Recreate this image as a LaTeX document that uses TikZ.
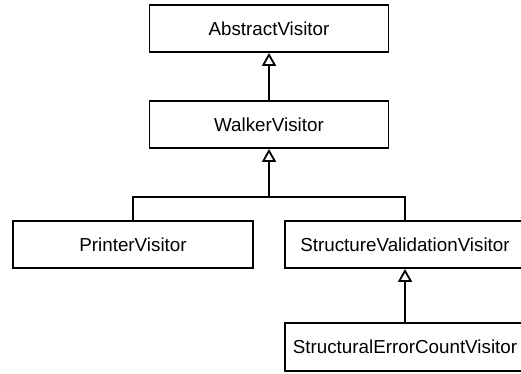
\documentclass[tikz,border=0pt]{standalone}
\usepackage{fontspec}
\setmainfont{Liberation Sans}
\usetikzlibrary{arrows.meta}
\begin{document}
\begin{tikzpicture}[x=1pt,y=-1pt,
  cls/.style={draw=black, line width=1.8pt, fill=white, minimum width=239pt, minimum height=47pt, inner sep=0pt, font=\fontsize{18.8}{22}\selectfont},
  inh/.style={line width=1.8pt, -{Triangle[open, length=13pt, width=14pt, fill=white]}}]
\clip (0,0) rectangle (521,373);
\useasboundingbox (0,0) rectangle (521,373);
\node[cls] (abs) at (269,28.5) {AbstractVisitor};
\node[cls] (walk) at (269,124.5) {WalkerVisitor};
\node[cls, minimum width=240pt] (print) at (133,244.5) {PrinterVisitor};
\node[cls, minimum width=240pt] (svv) at (405,244.5) {StructureValidationVisitor};
\node[cls, minimum width=240pt, minimum height=48pt] (secv) at (405,347) {StructuralErrorCountVisitor};
\coordinate (bus) at (269,197);
\draw[inh] (walk.north) -- (abs.south);
\draw[line width=1.8pt] (print.north) |- (bus) -| (svv.north);
\draw[inh] (bus) -- (walk.south);
\draw[inh] (secv.north) -- (svv.south);
\end{tikzpicture}
\end{document}
